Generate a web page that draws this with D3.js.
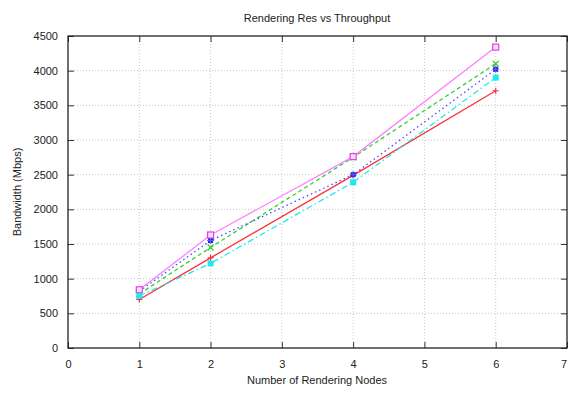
<!DOCTYPE html>
<html>
<head>
<meta charset="utf-8">
<script src="https://cdn.jsdelivr.net/npm/d3@7"></script>
<style>
  body { margin: 0; background: #fff; }
  text { font-family: "Liberation Sans", Arial, sans-serif; fill: #222; }
</style>
</head>
<body>
<div id="chart"></div>
<script>
// data
const nodes = [1, 2, 4, 6];
const xTicks = [0, 1, 2, 3, 4, 5, 6, 7];
const yTicks = [0, 500, 1000, 1500, 2000, 2500, 3000, 3500, 4000, 4500];
const seriesNames = ["s1", "s2", "s3", "s4", "s5"];
const redVals = [700, 1300, 2490, 3710];
const greenVals = [780, 1450, 2750, 4100];
const blueVals = [820, 1550, 2500, 4020];
const magentaVals = [840, 1630, 2760, 4340];
const cyanVals = [750, 1220, 2390, 3900];

const W = 568, H = 396;
const margin = {top: 36, right: 1, bottom: 48, left: 68};

const svg = d3.select("#chart").append("svg")
  .attr("width", W).attr("height", H);

const x = d3.scaleLinear().domain([0, 7]).range([margin.left, W - margin.right]);
const y = d3.scaleLinear().domain([0, 4500]).range([H - margin.bottom, margin.top]);

// grid
svg.append("g").selectAll("line").data(xTicks.slice(1, -1)).join("line")
  .attr("x1", d => x(d)).attr("x2", d => x(d))
  .attr("y1", y(0)).attr("y2", y(4500))
  .attr("stroke", "#c8c8c8").attr("stroke-dasharray", "1,2");
svg.append("g").selectAll("line").data(yTicks.slice(1, -1)).join("line")
  .attr("x1", x(0)).attr("x2", x(7))
  .attr("y1", d => y(d)).attr("y2", d => y(d))
  .attr("stroke", "#c8c8c8").attr("stroke-dasharray", "1,2");

// axes with inward ticks
const gx = svg.append("g").attr("transform", `translate(0,${y(0)})`)
  .call(d3.axisBottom(x).tickValues(xTicks).tickFormat(d3.format("d")).tickSize(-6).tickPadding(12).tickSizeOuter(0));
const gxTop = svg.append("g").attr("transform", `translate(0,${y(4500)})`)
  .call(d3.axisTop(x).tickValues(xTicks).tickSize(-6).tickFormat("").tickSizeOuter(0));
const gy = svg.append("g").attr("transform", `translate(${x(0)},0)`)
  .call(d3.axisLeft(y).tickValues(yTicks).tickFormat(d3.format("d")).tickSize(-6).tickPadding(10).tickSizeOuter(0));
const gyR = svg.append("g").attr("transform", `translate(${x(7)},0)`)
  .call(d3.axisRight(y).tickValues(yTicks).tickSize(-6).tickFormat("").tickSizeOuter(0));
[gx, gxTop, gy, gyR].forEach(g => {
  g.select(".domain").remove();
  g.selectAll("line").attr("stroke", "#333");
  g.selectAll("text").attr("font-size", 11).attr("fill", "#222")
    .style("font-family", "'Liberation Sans', Arial, sans-serif");
});
// the last x label sits against the right edge
gx.selectAll(".tick text").filter(d => d === 7).attr("text-anchor", "end").attr("dx", -0.5);

// frame
svg.append("rect")
  .attr("x", x(0)).attr("y", y(4500))
  .attr("width", x(7) - x(0)).attr("height", y(0) - y(4500))
  .attr("fill", "none").attr("stroke", "#222").attr("stroke-width", 1.3);

// series
const series = [
  {name: seriesNames[0], vals: redVals, color: "#ff3030", dash: null, mark: "plus"},
  {name: seriesNames[1], vals: greenVals, color: "#30d030", dash: "4,3", mark: "cross"},
  {name: seriesNames[2], vals: blueVals, color: "#4848ff", dash: "1.5,3", mark: "star"},
  {name: seriesNames[3], vals: magentaVals, color: "#ff80ff", dash: null, mark: "box"},
  {name: seriesNames[4], vals: cyanVals, color: "#20e8f0", dash: "6,3,1.5,3", mark: "fbox"}
];

const line = d3.line().x(d => x(d[0])).y(d => y(d[1]));

series.forEach(s => {
  const pts = nodes.map((n, i) => [n, s.vals[i]]);
  svg.append("path").datum(pts)
    .attr("d", line).attr("fill", "none")
    .attr("stroke", s.color).attr("stroke-width", 1.3)
    .attr("stroke-dasharray", s.dash);
  const g = svg.append("g");
  pts.forEach(p => {
    const cx = x(p[0]), cy = y(p[1]);
    if (s.mark === "plus") {
      g.append("path").attr("d", `M${cx-3},${cy}H${cx+3}M${cx},${cy-3}V${cy+3}`)
        .attr("stroke", s.color).attr("stroke-width", 1.2);
    } else if (s.mark === "cross") {
      g.append("path").attr("d", `M${cx-3},${cy-3}L${cx+3},${cy+3}M${cx-3},${cy+3}L${cx+3},${cy-3}`)
        .attr("stroke", s.color).attr("stroke-width", 1.2);
    } else if (s.mark === "star") {
      g.append("rect").attr("x", cx - 2.5).attr("y", cy - 2.5).attr("width", 5).attr("height", 5)
        .attr("fill", "#2020e0");
      g.append("path").attr("d", `M${cx-3.5},${cy}H${cx+3.5}M${cx},${cy-3.5}V${cy+3.5}`)
        .attr("stroke", "#6060ff").attr("stroke-width", 1);
    } else if (s.mark === "box") {
      g.append("rect").attr("x", cx - 3).attr("y", cy - 3).attr("width", 6).attr("height", 6)
        .attr("fill", "#ffe0ff").attr("stroke", "#e040e0").attr("stroke-width", 1.2);
    } else {
      g.append("rect").attr("x", cx - 3).attr("y", cy - 3).attr("width", 6).attr("height", 6)
        .attr("fill", s.color);
    }
  });
});

// titles
svg.append("text").attr("x", 317).attr("y", 22).attr("text-anchor", "middle")
  .attr("font-size", 11).text("Rendering Res vs Throughput");
svg.append("text").attr("x", 317).attr("y", 384).attr("text-anchor", "middle")
  .attr("font-size", 11).text("Number of Rendering Nodes");
svg.append("text").attr("transform", `translate(21,${(y(0) + y(4500)) / 2}) rotate(-90)`)
  .attr("text-anchor", "middle").attr("font-size", 11).text("Bandwidth (Mbps)");
</script>
</body>
</html>
